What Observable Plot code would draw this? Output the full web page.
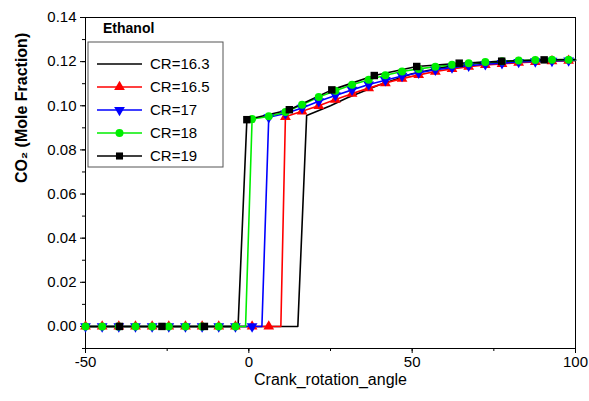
<!DOCTYPE html>
<html><head><meta charset="utf-8">
<script src="https://cdn.jsdelivr.net/npm/d3@7"></script>
<script src="https://cdn.jsdelivr.net/npm/@observablehq/plot@0.6"></script>
<style>body{margin:0;background:#fff;font-family:Arial,"Liberation Sans",sans-serif}#c{position:relative;width:589px;height:401px}</style>
</head><body><div id="c"></div>
<script>
const seriesNames = ["CR=16.3","CR=16.5","CR=17","CR=18","CR=19"];
const colors = ["#000000","#ff0000","#0000ff","#00ee00","#000000"];
const symbols = [null,"triangle","triangle","circle","square"];
const rotations = [0,0,180,0,0];
const grid = d3.range(30).map(k => +(-50 + 5.1*k).toFixed(1));
const cr165X = [11.2,16.3,21.4,26.5,31.6,36.7,41.8,46.9,52,57.1,62.2,67.3,72.4,77.5,82.6,87.7,92.8,97.9,100];
const cr165Y = [0.0950,0.0975,0.1000,0.1028,0.1055,0.1080,0.1103,0.1123,0.1140,0.1155,0.1167,0.1177,0.1185,0.1190,0.1195,0.1199,0.1202,0.1204,0.1205];
const cr17X = [6.1,11.2,16.3,21.4,26.5,31.6,36.7,41.8,46.9,52,57.1,62.2,67.3,72.4,77.5,82.6,87.7,92.8,97.9,100];
const cr17Y = [0.0948,0.0965,0.0990,0.1020,0.1047,0.1072,0.1096,0.1116,0.1135,0.1150,0.1163,0.1173,0.1181,0.1188,0.1193,0.1198,0.1201,0.1203,0.1205,0.1206];
const cr18X = [1.0,6.1,11.2,16.3,21.4,26.5,31.6,36.7,41.8,46.9,52,57.1,62.2,67.3,72.4,77.5,82.6,87.7,92.8,97.9,100];
const cr18Y = [0.0940,0.0952,0.0972,0.1005,0.1040,0.1068,0.1095,0.1118,0.1138,0.1155,0.1167,0.1177,0.1186,0.1193,0.1198,0.1202,0.1205,0.1207,0.1208,0.1209,0.1209];
const cr19X = [-0.6,12.4,25.4,38.4,51.4,64.4,77.4,90.4,100];
const cr19Y = [0.0937,0.0982,0.1072,0.1137,0.1178,0.1193,0.1202,0.1208,0.1210];
const cr163X = [17.7,25,30,40,50,60,70,80,90,100];
const cr163Y = [0.0956,0.1000,0.1035,0.1095,0.1145,0.1175,0.1192,0.1200,0.1203,0.1205];
const zeroEnd = [15.0, 9.8, 4.0, -1.0, -3.3];
const squareZeroX = [-39.6,-26.6,-13.6];
const xTicks = [-50,0,50,100];
const yTicks = [0,0.02,0.04,0.06,0.08,0.10,0.12,0.14];

const tops = [[cr163X,cr163Y],[cr165X,cr165Y],[cr17X,cr17Y],[cr18X,cr18Y],[cr19X,cr19Y]];
const lines = [], marks = [];
tops.forEach(([xs,ys],i)=>{
  const s = seriesNames[i];
  lines.push({s,x:-50,y:0},{s,x:zeroEnd[i],y:0});
  xs.forEach((x,j)=>lines.push({s,x,y:ys[j]}));
  if (!symbols[i]) return;
  if (i===4) squareZeroX.forEach(x=>marks.push({s,i,x,y:0}));
  else grid.filter(x=>x<=zeroEnd[i]).forEach(x=>marks.push({s,i,x,y:0}));
  xs.forEach((x,j)=>{ if (x<100) marks.push({s,i,x,y:ys[j]}); });
});

const plot = Plot.plot({
  width:589, height:401, marginLeft:85, marginRight:14, marginTop:17, marginBottom:53,
  style:{fontFamily:"Arial, 'Liberation Sans', sans-serif", fontSize:"15px", color:"#000"},
  x:{domain:[-50,100], label:null},
  y:{domain:[-0.01,0.14], label:null},
  marks:[
    Plot.frame({stroke:"#000"}),
    Plot.axisX(xTicks, {tickSize:5, fontSize:15, tickPadding:3, tickFormat:d=>String(d)}),
    Plot.axisX(d3.range(-50,101,25), {tickSize:3, text:null}),
    Plot.axisY(yTicks, {tickFormat:d3.format(".2f"), tickSize:5, fontSize:15}),
    Plot.axisY(d3.range(-0.01,0.141,0.01), {tickSize:3, text:null}),
    ...seriesNames.map((s,i)=>Plot.line(lines.filter(d=>d.s===s),{x:"x",y:"y",stroke:colors[i],strokeWidth:1.6})),
    ...seriesNames.map((s,i)=> symbols[i] ? Plot.dot(marks.filter(d=>d.s===s),{x:"x",y:"y",fill:colors[i],symbol:symbols[i],r:i===4?4.2:4,rotate:rotations[i]}) : null).filter(Boolean),
    Plot.text(["Crank_rotation_angle"],{frameAnchor:"bottom",dy:36,fontSize:16}),
    Plot.text(["CO₂ (Mole Fraction)"],{frameAnchor:"left",dx:-64,rotate:-90,fontSize:16,fontWeight:"bold"})
  ]
});
document.getElementById("c").appendChild(plot);
const g = d3.select(plot).append("g").attr("font-family","Arial, 'Liberation Sans', sans-serif").attr("text-anchor","start");
g.append("text").attr("x",103).attr("y",33).attr("font-size",14).attr("font-weight","bold").attr("text-anchor","start").text("Ethanol");
g.append("rect").attr("x",88).attr("y",42).attr("width",135).attr("height",125).attr("fill","#fff").attr("stroke","#555");
seriesNames.forEach((s,i)=>{
  const y = 64 + i*23;
  g.append("line").attr("x1",97).attr("x2",142).attr("y1",y).attr("y2",y).attr("stroke",colors[i]).attr("stroke-width",1.6);
  if (symbols[i]) {
    const sym = d3.symbol().type({triangle:d3.symbolTriangle,circle:d3.symbolCircle,square:d3.symbolSquare}[symbols[i]]).size(50);
    g.append("path").attr("d",sym()).attr("fill",colors[i]).attr("transform",`translate(119.5,${y}) rotate(${rotations[i]})`);
  }
  g.append("text").attr("x",150).attr("y",y+5).attr("font-size",15).attr("text-anchor","start").text(s);
});
</script></body></html>
